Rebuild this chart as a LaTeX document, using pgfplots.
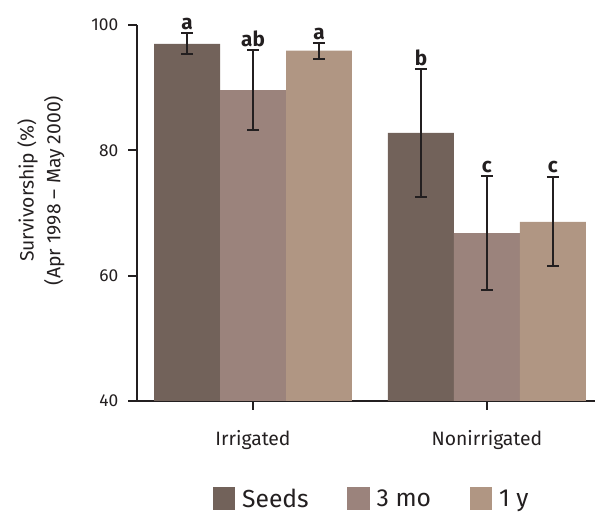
\documentclass[border=0pt]{standalone}
\usepackage{pgfplots}
\pgfplotsset{compat=1.18}
\usepackage{fontspec}
\setmainfont{Fira Sans}
\definecolor{seeds}{HTML}{72625A}
\definecolor{threemo}{HTML}{9B837C}
\definecolor{oney}{HTML}{B09683}
\definecolor{ink}{HTML}{231F20}
\tikzset{sig/.style={font=\fontsize{15.5}{17}\selectfont\bfseries, text=ink, anchor=south, inner sep=1pt}}
\begin{document}
\begin{tikzpicture}
\begin{axis}[
    scale only axis,
    width=343.5pt, height=282pt,
    axis lines=left,
    axis line style={ink, line width=1.5pt, -},
    ymin=40, ymax=100,
    xmin=-0.496, xmax=1.462,
    ytick={40,60,80,100},
    xtick={0,1},
    xticklabels={Irrigated,Nonirrigated},
    tick style={ink, line width=1.5pt},
    major tick length=6.5pt,
    tick align=outside,
    tick label style={font=\fontsize{13}{15}\selectfont, text=ink},
    yticklabel style={xshift=-4pt},
    xticklabel style={font=\fontsize{14.5}{16}\selectfont, yshift=-12pt},
    /pgf/number format/assume math mode=true,
    ylabel={Survivorship (\%)\\(Apr 1998 -- May 2000)},
    ylabel style={align=center, font=\fontsize{14.5}{20}\selectfont, text=ink,
        at={(axis description cs:-0.21,0.56)}, anchor=center},
    ybar, bar width=0.282,
    clip=false,
    legend columns=3,
    legend style={draw=none, at={(0.513,-0.26)}, anchor=center,
        font=\fontsize{18.5}{20}\selectfont, text=ink,
        /tikz/every odd column/.append style={column sep=3pt},
        /tikz/every even column/.append style={column sep=27pt}},
    legend image code/.code={\fill[#1] (0pt,-8.5pt) rectangle (17pt,8.5pt);},
    error bars/y dir=both,
    error bars/y explicit,
    error bars/error mark=|,
    error bars/error bar style={ink, line width=1.5pt},
    error bars/error mark options={ink, mark size=4.5pt, line width=1.5pt},
]
\addplot[fill=seeds, draw=none, bar shift=-0.282] coordinates {
    (0,97.0) +- (0,1.7)
    (1,82.8) +- (0,10.2)
};
\addplot[fill=threemo, draw=none, bar shift=0] coordinates {
    (0,89.6) +- (0,6.4)
    (1,66.8) +- (0,9.1)
};
\addplot[fill=oney, draw=none, bar shift=0.282] coordinates {
    (0,95.9) +- (0,1.3)
    (1,68.6) +- (0,7.1)
};
\legend{Seeds,3 mo,1 y}
\node[sig] at (axis cs:-0.282,98.9) {a};
\node[sig] at (axis cs:0,96.2) {ab};
\node[sig] at (axis cs:0.282,97.4) {a};
\node[sig] at (axis cs:0.718,93.3) {b};
\node[sig] at (axis cs:1,76.1) {c};
\node[sig] at (axis cs:1.282,76.1) {c};
\end{axis}
\pgfresetboundingbox
\useasboundingbox ([shift={(-102.75pt,-83.25pt)}]current axis.south west) rectangle ([shift={(0pt,18.75pt)}]current axis.north east);
\end{tikzpicture}
\end{document}
